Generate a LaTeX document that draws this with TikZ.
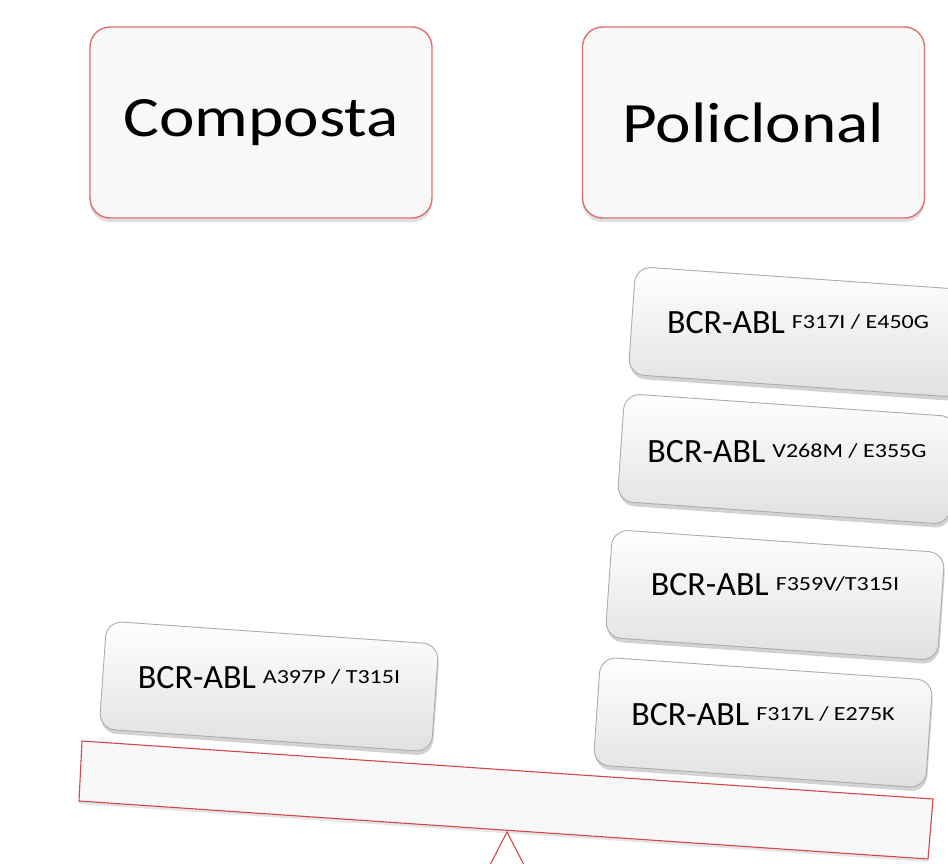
\documentclass[tikz,border=0pt]{standalone}
\usepackage{fontspec}
\setmainfont{Carlito}
\newfontfamily\widef[FakeStretch=1.18]{Carlito}
\newfontfamily\supf[FakeStretch=1.2]{Carlito}
\usetikzlibrary{shadows}
\definecolor{boxred}{RGB}{222,112,112}
\definecolor{plankred}{RGB}{214,70,70}
\definecolor{boxfill}{RGB}{248,248,248}
\newcommand{\bcrlabel}[1]{{\fontsize{34}{36}\selectfont BCR-ABL}\hspace{7pt}\raisebox{5pt}{\supf\fontsize{20}{20}\selectfont #1}}
\begin{document}
\begin{tikzpicture}[x=1pt,y=1pt,
 titlebox/.style={draw=boxred, line width=1.4pt, fill=boxfill, rounded corners=20pt,
   minimum width=342pt, minimum height=191pt,
   drop shadow={shadow xshift=0pt, shadow yshift=-4pt, opacity=0.25},
   font=\widef\fontsize{57}{60}\selectfont},
 mutbox/.style={draw=gray!65, line width=0.9pt, rounded corners=16pt, top color=white,
   bottom color=gray!24, minimum width=333pt, minimum height=108pt, rotate=-4,
   drop shadow={shadow xshift=1pt, shadow yshift=-4pt, opacity=0.35}},
 mutlabel/.style={inner sep=0pt},
 beam/.style={draw=plankred, line width=1.1pt, fill=boxfill}
]
\useasboundingbox (0,0) rectangle (948,-863);
\clip (0,0) rectangle (948,-863);
\fill[white] (0,0) rectangle (948,-863);

\node[titlebox] (comp) at (261,-122.5) {Composta};
\node[titlebox] (poli) at (753.5,-122.5) {Policlonal};

% fulcrum and plank
\coordinate (apex) at (507,-832);
\draw[beam, fill=white] (apex) -- (446,-950) -- (568,-950) -- cycle;
\draw[beam, drop shadow={shadow xshift=0pt, shadow yshift=-3pt, opacity=0.2}]
  (82,-741) -- (933,-799) -- (928,-859) -- (79,-801) -- cycle;

% mutation boxes
\node[mutbox] (m1) at (798,-332) {};
\node[mutbox] (m2) at (787,-459) {};
\node[mutbox] (m3) at (775,-595) {};
\node[mutbox] (m4) at (763,-722.5) {};
\node[mutbox] (m5) at (269,-686.5) {};

\node[mutlabel] (t1) at ([yshift=9pt]m1.center) {\bcrlabel{F317I / E450G}};
\node[mutlabel] (t2) at ([yshift=7pt]m2.center) {\bcrlabel{V268M / E355G}};
\node[mutlabel] (t3) at ([yshift=10pt]m3.center) {\bcrlabel{F359V/T315I}};
\node[mutlabel] (t4) at ([yshift=8pt]m4.center) {\bcrlabel{F317L / E275K}};
\node[mutlabel] (t5) at ([yshift=9pt]m5.center) {\bcrlabel{A397P / T315I}};
\end{tikzpicture}
\end{document}
